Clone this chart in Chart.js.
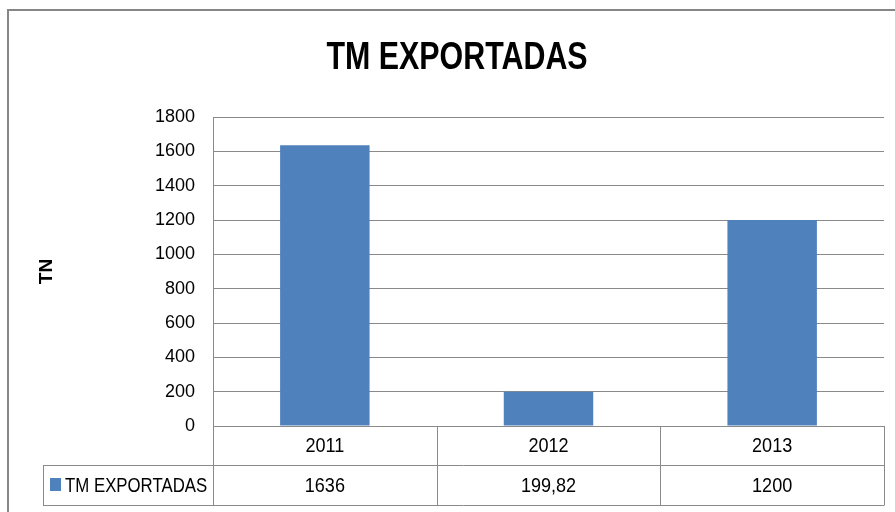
<!DOCTYPE html>
<html><head><meta charset="utf-8">
<script src="https://cdn.jsdelivr.net/npm/chart.js@4"></script>
<style>html,body{margin:0;padding:0;background:#fff;}#wrap{position:relative;width:895px;height:512px;}</style>
</head><body><div id="wrap"><canvas id="c" width="895" height="512"></canvas></div>
<script>
const chartTitle = 'TM EXPORTADAS';
const yAxisTitle = 'TN';
const categories = ['2011', '2012', '2013'];
const seriesName = 'TM EXPORTADAS';
const values = [1636, 199.82, 1200];
const valueLabels = ['1636', '199,82', '1200'];
const yTickMin = 0;
const yTickMax = 1800;
const yTickStep = 200;

const REG = "'Liberation Sans', Arial, sans-serif";
const LINE = '#8a8a8a';
const BAR = '#4F81BD';

// draw text compressed horizontally (Calibri-like narrow look)
function narrowText(ctx, text, x, y, font, sx, align) {
  ctx.save();
  ctx.font = font;
  ctx.textAlign = align || 'center';
  ctx.textBaseline = 'middle';
  ctx.translate(x, y);
  ctx.scale(sx, 1);
  ctx.fillText(text, 0, 0);
  ctx.restore();
}

const frame = {
  id: 'frame',
  beforeDraw(chart) {
    const ctx = chart.ctx;
    ctx.save();
    ctx.fillStyle = '#fff';
    ctx.fillRect(0, 0, chart.width, chart.height);
    ctx.strokeStyle = '#868686';
    ctx.lineWidth = 2;
    ctx.strokeRect(8, 10, chart.width + 20, chart.height + 20);
    ctx.restore();
  },
  afterDraw(chart) {
    const ctx = chart.ctx;
    ctx.save();
    ctx.fillStyle = '#000';
    narrowText(ctx, chartTitle, 457, 59, 'bold 38px ' + REG, 0.8, 'center');
    ctx.restore();
  }
};

const dataTable = {
  id: 'dataTable',
  afterDraw(chart) {
    const ctx = chart.ctx;
    const ca = chart.chartArea;
    const xs = chart.scales.x;
    const n = categories.length;
    const step = xs.getPixelForValue(1) - xs.getPixelForValue(0);
    const top = ca.bottom, mid = ca.bottom + 39, bot = ca.bottom + 79;
    const keyLeft = 43;
    ctx.save();
    ctx.strokeStyle = LINE;
    ctx.lineWidth = 1;
    const line = (x1, y1, x2, y2) => { ctx.beginPath(); ctx.moveTo(x1, y1); ctx.lineTo(x2, y2); ctx.stroke(); };
    line(keyLeft, Math.round(mid) + 0.5, ca.right, Math.round(mid) + 0.5);
    line(keyLeft, Math.round(bot) + 0.5, ca.right, Math.round(bot) + 0.5);
    line(keyLeft + 0.5, mid, keyLeft + 0.5, bot);
    for (let i = 0; i <= n; i++) {
      const x = Math.round(xs.getPixelForValue(0) - step / 2 + i * step) + 0.5;
      line(x, top, x, bot + 0.5);
    }
    ctx.fillStyle = '#000';
    const f = '21px ' + REG;
    for (let i = 0; i < n; i++) {
      const cx = xs.getPixelForValue(i);
      narrowText(ctx, categories[i], cx, (top + mid) / 2 + 1, f, 0.86, 'center');
      narrowText(ctx, valueLabels[i], cx, (mid + bot) / 2 + 1, f, 0.86, 'center');
    }
    ctx.fillStyle = BAR;
    ctx.fillRect(50, 478, 11, 13);
    ctx.fillStyle = '#000';
    narrowText(ctx, seriesName, 65, (mid + bot) / 2 + 1, f, 0.8, 'left');
    ctx.restore();
  }
};

new Chart(document.getElementById('c'), {
  type: 'bar',
  data: {
    labels: categories,
    datasets: [{
      label: seriesName,
      data: values,
      backgroundColor: BAR,
      borderWidth: 0,
      barPercentage: 0.4,
      categoryPercentage: 1
    }]
  },
  options: {
    responsive: false,
    animation: false,
    devicePixelRatio: 1,
    layout: { padding: { top: 117, left: 0, right: 11, bottom: 7 } },
    plugins: {
      legend: { display: false },
      tooltip: { enabled: false },
      title: { display: false }
    },
    scales: {
      x: {
        grid: { display: false },
        border: { display: true, color: LINE },
        ticks: { display: false },
        afterFit(s) { s.height = 79; }
      },
      y: {
        min: yTickMin,
        max: yTickMax,
        ticks: {
          stepSize: yTickStep,
          color: '#000',
          font: { family: REG, size: 18 },
          padding: 18,
          callback: (v) => String(v)
        },
        grid: { color: LINE, drawTicks: false },
        border: { display: true, color: LINE },
        title: {
          display: true,
          text: yAxisTitle,
          color: '#000',
          font: { family: REG, size: 19, weight: 'bold' },
          padding: { top: 35, bottom: 0 }
        },
        afterFit(s) { s.width = 213; }
      }
    }
  },
  plugins: [frame, dataTable]
});
</script>
</body></html>
